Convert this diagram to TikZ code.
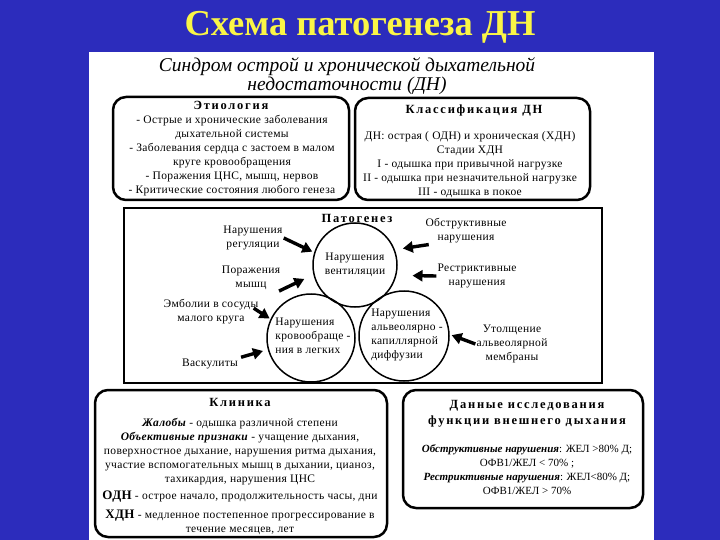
\documentclass[tikz,border=0pt]{standalone}
\usepackage{fontspec}
\setmainfont{Liberation Serif}
\usetikzlibrary{arrows.meta}
\definecolor{fon}{RGB}{44,44,188}
\definecolor{zheltyj}{RGB}{250,245,70}
\begin{document}
\begin{tikzpicture}[x=1pt,y=-1pt,>={Triangle[length=10pt,width=11pt]},
	blok/.style={draw,line width=2.5pt,rounded corners=13pt},
	txt/.style={align=center,inner sep=1pt,font=\fontsize{11.5}{14}\selectfont\addfontfeatures{LetterSpace=3}},
	zagl/.style={align=center,inner sep=1pt,font=\fontsize{12.5}{16}\selectfont\bfseries\addfontfeatures{LetterSpace=14}},
	krug/.style={draw,circle,line width=1.5pt,inner sep=0pt},
	pil/.style={->,line width=3.4pt}]
	\fill[fon] (0,0) rectangle (720,540);
	\useasboundingbox (0,0) rectangle (720,540);
	\fill[white] (89,52) rectangle (654,540);
	\node[text=zheltyj,font=\fontsize{36.5}{40}\selectfont\bfseries] (title) at (360,27) {Схема патогенеза ДН};
	\node[align=center,font=\fontsize{19.5}{19}\selectfont\itshape] (sindrom) at (347,76) {Синдром острой и хронической дыхательной\\недостаточности (ДН)};
	% верхние блоки
	\draw[blok] (113,97) rectangle (349,200);
	\node[zagl] (etiol) at (231,105) {Этиология};
	\node[txt] (etiolT) at (232,156) {- Острые и хронические заболевания\\дыхательной системы\\- Заболевания сердца с застоем в малом\\круге кровообращения\\- Поражения ЦНС, мышц, нервов\\- Критические состояния любого генеза};
	\draw[blok] (355,98) rectangle (590,200);
	\node[zagl] (klass) at (474,110) {Классификация ДН};
	\node[txt] (klassT) at (470,165) {ДН: острая ( ОДН) и хроническая (ХДН)\\Стадии ХДН\\I - одышка при привычной нагрузке\\II - одышка при незначительной нагрузке\\III - одышка в покое};
	% патогенез
	\draw[line width=2.5pt] (124,208) rectangle (602,383);
	\node[zagl] (patog) at (357,218) {Патогенез};
	\node[krug,minimum size=84pt] (vent) at (355,265) {};
	\node[krug,minimum size=88pt] (krov) at (311,338) {};
	\node[krug,minimum size=90pt] (diff) at (404,336) {};
	\node[txt] (ventT) at (vent) {Нарушения\\вентиляции};
	\node[txt,align=left] (krovT) at (313,336) {Нарушения\\кровообраще -\\ния в легких};
	\node[txt,align=left] (diffT) at (407,335) {Нарушения\\альвеолярно -\\капиллярной\\диффузии};
	\node[txt] (reg) at (253,238) {Нарушения\\регуляции};
	\node[txt] (mysh) at (251,278) {Поражения\\мышц};
	\node[txt] (embol) at (211,312) {Эмболии в сосуды\\малого круга};
	\node[txt] (vask) at (210,364) {Васкулиты};
	\node[txt] (obstr) at (466,231) {Обструктивные\\нарушения};
	\node[txt] (restr) at (477,276) {Рестриктивные\\нарушения};
	\node[txt] (membr) at (512,344) {Утолщение\\альвеолярной\\мембраны};
	\draw[pil,shorten >=2pt] (reg.east) -- (vent.163);
	\draw[pil,shorten >=10pt] (mysh.-25) -- (vent.193);
	\draw[pil,shorten <=-7pt,shorten >=1pt] (embol.east) -- (krov.155);
	\draw[pil,shorten <=2pt,shorten >=5pt] (vask.north east) -- (krov.195);
	\draw[pil,shorten >=8pt] (obstr.200) -- (vent.21);
	\draw[pil,shorten >=16pt] (restr.west) -- (vent.-14);
	\draw[pil,shorten >=2pt] (membr.west) -- (diff.2);
	% нижние блоки
	\draw[blok] (95,390) rectangle (387,537);
	\node[zagl] (klin) at (240,402) {Клиника};
	\node[txt] (klinT) at (240,476) {\textbf{\textit{Жалобы}} - одышка различной степени\\
		\textbf{\textit{Объективные признаки}} - учащение дыхания,\\
		поверхностное дыхание, нарушения ритма дыхания,\\
		участие вспомогательных мышц в дыхании, цианоз,\\
		тахикардия, нарушения ЦНС\\[3pt]
		{\fontsize{13}{14}\selectfont\bfseries ОДН} - острое начало, продолжительность часы, дни\\[5pt]
		{\fontsize{13}{14}\selectfont\bfseries ХДН} - медленное постепенное прогрессирование в\\
		течение месяцев, лет};
	\draw[blok] (403,390) rectangle (643,508);
	\node[zagl] (fvd) at (527,414) {Данные исследования\\функции внешнего дыхания};
	\node[txt,font=\fontsize{11}{14}\selectfont] (fvdT) at (527,470) {\textbf{\textit{Обструктивные нарушения}}: ЖЕЛ >80\% Д;\\ОФВ1/ЖЕЛ < 70\% ;\\\textbf{\textit{Рестриктивные нарушения}}: ЖЕЛ<80\% Д;\\ОФВ1/ЖЕЛ > 70\%};
\end{tikzpicture}
\end{document}
